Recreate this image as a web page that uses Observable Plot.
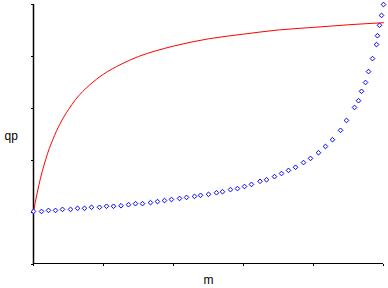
<!DOCTYPE html>
<html>
<head>
<meta charset="utf-8">
<script src="https://cdn.jsdelivr.net/npm/d3@7"></script>
<script src="https://cdn.jsdelivr.net/npm/@observablehq/plot@0.6"></script>
<style>
  html, body { margin: 0; padding: 0; background: white; overflow: hidden; }
</style>
</head>
<body>
<div id="chart"></div>
<script>
const xTicks = [0, 1, 2, 3, 4, 5];
const yTicks = [0, 1, 2, 3, 4, 5];

// red curve
const redX = [0, 0.05, 0.1, 0.15, 0.2, 0.3, 0.4, 0.5, 0.6, 0.8, 1.0, 1.25, 1.5, 1.75, 2.0, 2.5, 3.0, 3.5, 4.0, 4.5, 5.0];
const redY = [1.02, 1.36, 1.66, 1.91, 2.13, 2.48, 2.76, 2.98, 3.17, 3.45, 3.66, 3.85, 4.00, 4.11, 4.20, 4.34, 4.43, 4.51, 4.56, 4.61, 4.65];

// blue diamond markers
const dotX = [0, 0.114, 0.214, 0.314, 0.414, 0.529, 0.629, 0.729, 0.829, 0.943,
  1.043, 1.143, 1.25, 1.357, 1.457, 1.557, 1.671, 1.771, 1.871, 1.971,
  2.086, 2.186, 2.3, 2.386, 2.5, 2.614, 2.7, 2.814, 2.914, 3.014,
  3.114, 3.236, 3.329, 3.443, 3.543, 3.643, 3.743, 3.857, 3.957, 4.071,
  4.171, 4.271, 4.386, 4.471, 4.586, 4.643, 4.686, 4.743, 4.786, 4.843,
  4.9, 4.914, 4.943, 4.971, 5.0];
const dotY = [1.02, 1.02, 1.04, 1.04, 1.06, 1.06, 1.08, 1.08, 1.10, 1.10,
  1.12, 1.12, 1.13, 1.15, 1.17, 1.17, 1.19, 1.21, 1.23, 1.25,
  1.27, 1.29, 1.31, 1.33, 1.35, 1.38, 1.40, 1.44, 1.46, 1.50,
  1.54, 1.60, 1.63, 1.69, 1.75, 1.81, 1.87, 1.96, 2.04, 2.15,
  2.27, 2.40, 2.58, 2.77, 3.02, 3.15, 3.33, 3.50, 3.71, 3.96,
  4.23, 4.40, 4.60, 4.79, 5.0];

const red = redX.map((x, i) => ({x, y: redY[i]}));
const dots = dotX.map((x, i) => ({x, y: dotY[i]}));

const chart = Plot.plot({
  width: 388,
  height: 288,
  marginLeft: 33,
  marginRight: 5,
  marginTop: 4,
  marginBottom: 24,
  x: {domain: [0, 5]},
  y: {domain: [0, 5]},
  style: {background: "white", fontFamily: "'Liberation Sans', Arial, sans-serif", fontSize: "12px", color: "black"},
  marks: [
    Plot.axisX({ticks: xTicks, tickSize: 2, tickFormat: () => "", label: null}),
    Plot.axisY({ticks: yTicks, tickSize: 2, tickFormat: () => "", label: null}),
    Plot.ruleX([0], {stroke: "black", strokeWidth: 1.5}),
    Plot.ruleY([0], {stroke: "black", dy: -1}),
    Plot.line(red, {x: "x", y: "y", stroke: "red", strokeWidth: 1, curve: "monotone-x"}),
    Plot.dot(dots, {x: "x", y: "y", symbol: "diamond2", r: 2.1, stroke: "blue", strokeWidth: 1, fill: "white"}),
    Plot.text(["qp"], {frameAnchor: "left", dx: -29, dy: 2, textAnchor: "start", fontSize: 12, fill: "black"}),
    Plot.text(["m"], {frameAnchor: "bottom", dy: 19, fontSize: 12, fill: "black"})
  ]
});
document.getElementById("chart").appendChild(chart);
</script>
</body>
</html>
